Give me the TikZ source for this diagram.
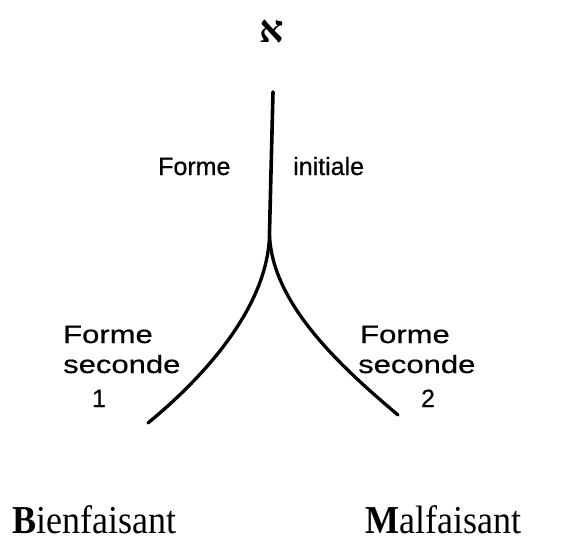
\documentclass[tikz,border=0pt]{standalone}
\usepackage{fontspec}
\usepackage{graphicx}
\setmainfont{Liberation Serif}
\newfontfamily\labelsans[FakeBold=0.6]{Liberation Sans}
\newfontfamily\widesans[FakeStretch=1.24,FakeBold=0.6]{Liberation Sans}
\newfontfamily\hebfont[Script=Hebrew]{Liberation Serif}
\begin{document}
\begin{tikzpicture}[x=1pt,y=-1pt,
  lbl/.style={inner sep=0pt,anchor=base west,font=\labelsans\fontsize{25}{30}\selectfont},
  wlbl/.style={inner sep=0pt,anchor=base west,font=\widesans\fontsize{25}{30}\selectfont},
  numlbl/.style={inner sep=0pt,anchor=base,font=\labelsans\fontsize{25}{30}\selectfont},
  bigword/.style={inner sep=0pt,anchor=base west,font=\fontsize{36}{40}\selectfont},
  branch/.style={line width=3.3pt,line cap=round}]
\useasboundingbox (0,0) rectangle (566,538);
% key points
\coordinate (top) at (273,92);
\coordinate (cusp) at (269.5,232);
\coordinate (end1) at (148,423);
\coordinate (end2) at (398,415);
% aleph
\node[inner sep=0pt,font=\hebfont\bfseries\fontsize{38}{38}\selectfont] (aleph) at (272,32) {א};
% branches
\draw[branch,line width=3.6pt] (top) -- (cusp);
\draw[branch] (cusp) .. controls (269.5,302) and (210,372) .. (end1);
\draw[branch] (cusp) .. controls (270,302) and (340,366) .. (end2);
% labels
\node[lbl] (f0) at (158,175) {Forme};
\node[lbl] (init) at (293,175) {initiale};
\node[wlbl] (f1) at (63,343) {Forme};
\node[wlbl] (s1) at (63,373) {seconde};
\node[numlbl] (n1) at (99,407) {1};
\node[wlbl] (f2) at (360,343) {Forme};
\node[wlbl] (s2) at (358,373) {seconde};
\node[numlbl] (n2) at (428,407) {2};
% bottom words
\node[bigword] (bien) at (12,533) {\scalebox{1}[1.1]{\textbf{B}ienfaisant}};
\node[bigword] (mal) at (365,533) {\scalebox{1}[1.1]{\textbf{M}alfaisant}};
\end{tikzpicture}
\end{document}
